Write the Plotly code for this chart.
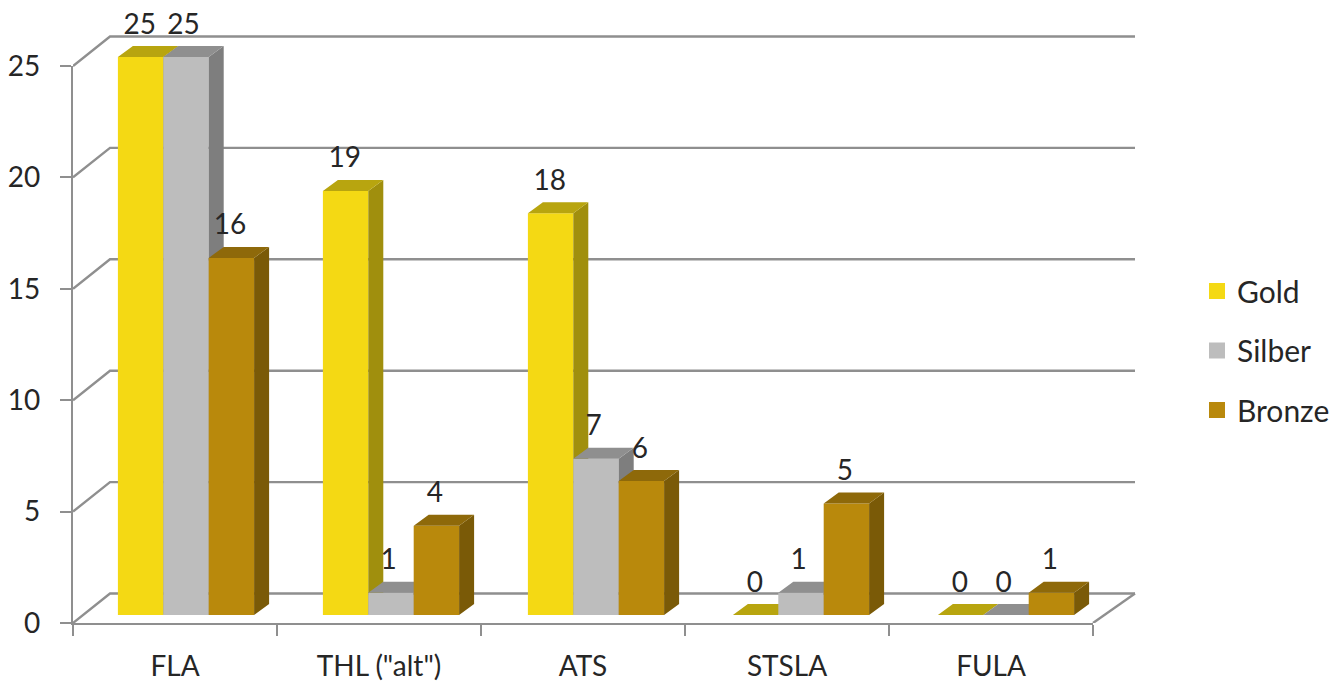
import plotly.graph_objects as go

categories = ['FLA', 'THL ("alt")', 'ATS', 'STSLA', 'FULA']
gold = [25, 19, 18, 0, 0]
silber = [25, 1, 7, 1, 0]
bronze = [16, 4, 6, 5, 1]
y_ticks = [0, 5, 10, 15, 20, 25]

W, H = 1341, 681
L, R_EDGE, T, B_EDGE = 73, 1138, 5, 623      # plot rectangle in page px
FONT = "Lato"
TXT = "#262626"
GRID = "#8f8f8f"

# front plane axis scale
CAT_PX, VAL_PX = 204.0, 22.28
# bar plane scale
BAR_CAT_PX, BAR_VAL_PX, BAR_X0, BAR_Y0 = 205.0, 22.32, 83.5, 615.0
BAR_W = 45.4 / BAR_CAT_PX
DEPTH_X = 15 / BAR_CAT_PX
DEPTH_Y = 11 / BAR_VAL_PX
LABEL_DY = 30.5 / BAR_VAL_PX

series = [
    ("Gold", gold, "#F4D914", "#B8A50F", "#A08F0D", -0.004),
    ("Silber", silber, "#BDBDBD", "#8F8F8F", "#7E7E7E", -0.012),
    ("Bronze", bronze, "#B9890C", "#8E690A", "#7A5A07", -0.007),
]

fig = go.Figure()

# back walls and floor, on hidden axes that use the front plane's scale
n = len(categories)
y_max = max(y_ticks)
WALL_L, WALL_R, WALL_RF = 37 / CAT_PX, (1135 - L) / CAT_PX, float(n)
WALL_DY = 29.5 / VAL_PX
gx, gy = [], []
for v in y_ticks:
    gx += [0, WALL_L, WALL_R, None]
    gy += [v, v + WALL_DY, v + WALL_DY, None]
gx += [WALL_R, WALL_RF]
gy += [WALL_DY, 0]
fig.add_trace(go.Scatter(x=gx, y=gy, mode="lines", line=dict(color=GRID, width=2.4),
                         hoverinfo="skip", showlegend=False, xaxis="x", yaxis="y"))

for s, (name, vals, front, top, side, _) in enumerate(series):
    ya = f"y{s + 2}"
    xs = [k + 0.5 + (s - 1) * BAR_W for k in range(n)]
    fig.add_trace(go.Bar(x=xs, y=vals, width=BAR_W, marker=dict(color=front, line=dict(width=0)),
                         showlegend=False, xaxis="x2", yaxis=ya, hoverinfo="skip"))
    sx, sy, tx, ty = [], [], [], []
    for x, v in zip(xs, vals):
        x0, x1 = x - BAR_W / 2, x + BAR_W / 2
        sx += [x1, x1 + DEPTH_X, x1 + DEPTH_X, x1, x1, None]
        sy += [0, DEPTH_Y, v + DEPTH_Y, v, 0, None]
        tx += [x0, x0 + DEPTH_X, x1 + DEPTH_X, x1, x0, None]
        ty += [v, v + DEPTH_Y, v + DEPTH_Y, v, v, None]
    for px, py, col in ((sx, sy, side), (tx, ty, top)):
        fig.add_trace(go.Scatter(x=px, y=py, mode="lines", fill="toself", fillcolor=col,
                                 line=dict(width=0, color=col), hoverinfo="skip",
                                 showlegend=False, xaxis="x2", yaxis=ya))

# value labels on the top-most layer
for s, (name, vals, front, top, side, shift) in enumerate(series):
    xs = [k + 0.5 + (s - 1) * BAR_W + shift for k in range(n)]
    fig.add_trace(go.Scatter(x=xs, y=[v + LABEL_DY for v in vals], mode="text",
                             text=[str(v) for v in vals], textposition="middle center",
                             textfont=dict(family=FONT, size=28, color=TXT),
                             cliponaxis=False, hoverinfo="skip", showlegend=False,
                             xaxis="x2", yaxis="y4"))

# legend entries, attached to the visible front axes
for name, vals, front, top, side, _ in series:
    fig.add_trace(go.Scatter(x=[None], y=[None], mode="markers", name=name, legendgroup=name,
                             marker=dict(symbol="square", size=17, color=front),
                             xaxis="x3", yaxis="y5"))

plot_h = B_EDGE - T
plot_w = R_EDGE - L
hidden = dict(visible=False, fixedrange=True)
bar_y = [(BAR_Y0 - B_EDGE) / BAR_VAL_PX, (BAR_Y0 - T) / BAR_VAL_PX]

fig.update_layout(
    width=W, height=H, autosize=False,
    margin=dict(l=L, r=W - R_EDGE, t=T, b=H - B_EDGE, pad=0, autoexpand=False),
    paper_bgcolor="white", plot_bgcolor="rgba(0,0,0,0)",
    barmode="overlay",
    font=dict(family=FONT, size=28, color=TXT),
    # hidden wall axes
    xaxis=dict(range=[0, plot_w / CAT_PX], domain=[0, 1], **hidden),
    yaxis=dict(range=[0, plot_h / VAL_PX], domain=[0, 1], **hidden),
    # hidden bar axes
    xaxis2=dict(range=[(L - BAR_X0) / BAR_CAT_PX, (R_EDGE - BAR_X0) / BAR_CAT_PX],
                domain=[0, 1], anchor="y2", **hidden),
    yaxis2=dict(range=bar_y, domain=[0, 1], anchor="x2", **hidden),
    yaxis3=dict(range=bar_y, overlaying="y2", anchor="x2", **hidden),
    yaxis4=dict(range=bar_y, overlaying="y2", anchor="x2", **hidden),
    # visible front axes, exactly as long as the front edges of the box
    xaxis3=dict(range=[0, n], domain=[0, n * CAT_PX / plot_w], anchor="y5", tickmode="array",
                tickvals=[k + 0.5 for k in range(n)], ticktext=categories,
                ticks="", showgrid=False, zeroline=False, automargin=False,
                showline=True, linecolor=GRID, linewidth=2.4,
                minor=dict(tickmode="array", tickvals=list(range(n + 1)), ticks="outside",
                           ticklen=11, tickwidth=2.4, tickcolor=GRID, showgrid=False),
                ticklabelstandoff=17,
                tickfont=dict(family=FONT, size=28, color=TXT), fixedrange=True),
    yaxis5=dict(range=[0, y_max], domain=[0, y_max * VAL_PX / plot_h], anchor="x3",
                tickmode="array", tickvals=y_ticks,
                ticktext=[str(v) for v in y_ticks], ticks="outside", ticklen=11,
                tickwidth=2.4, tickcolor=GRID, showgrid=False, zeroline=False, automargin=False,
                showline=True, linecolor=GRID, linewidth=2.4,
                ticklabelstandoff=14,
                tickfont=dict(family=FONT, size=28, color=TXT), fixedrange=True),
    legend=dict(x=1197 / W, xref="container", xanchor="left",
                y=1 - 265 / H, yref="container", yanchor="top",
                font=dict(family=FONT, size=30, color=TXT), tracegroupgap=17.5,
                itemsizing="trace", bgcolor="rgba(0,0,0,0)"),
    showlegend=True,
)
fig.write_html("out.html", config=dict(displayModeBar=False),
               post_script="document.body.style.margin='0';")
